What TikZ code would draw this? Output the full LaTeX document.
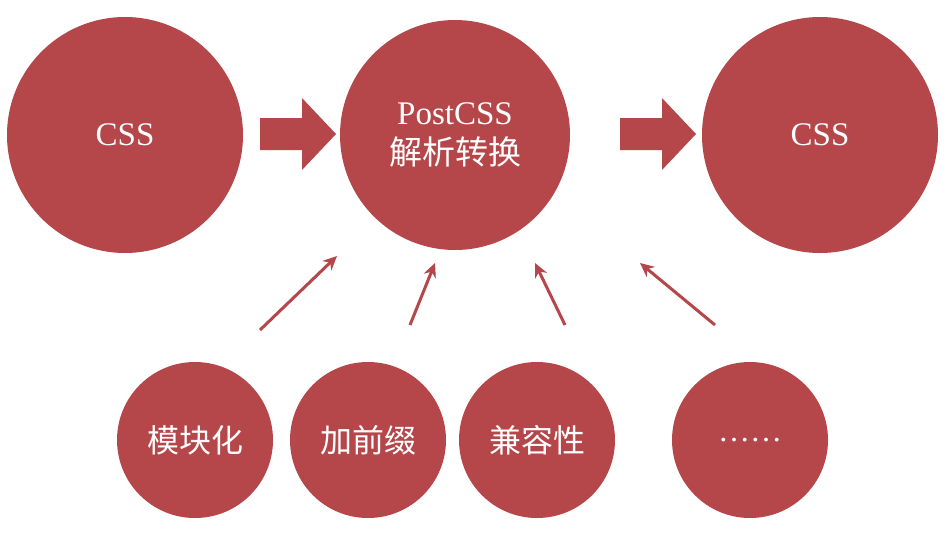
\documentclass[tikz,border=0pt]{standalone}
\usepackage{fontspec}
\usetikzlibrary{arrows.meta}
\setmainfont{Liberation Serif}
\newfontfamily\cjk{Noto Sans CJK SC}
\definecolor{red1}{HTML}{B5464A}
\begin{document}
\begin{tikzpicture}[x=1pt,y=-1pt,
  big/.style={circle,fill=red1,text=white,minimum size=236pt,inner sep=0pt,font=\fontsize{33}{40}\selectfont,align=center},
  small/.style={circle,fill=red1,text=white,minimum size=156pt,inner sep=0pt,font=\cjk\fontsize{32}{38}\selectfont},
  thin/.style={red1,line width=3pt,-{Stealth[length=14pt,width=13pt]}}]
\useasboundingbox[fill=white] (0,0) rectangle (946,555);
\node[big] (a) at (125,135) {CSS};
\node[big,minimum size=230pt] (b) at (455,135) {PostCSS\\{\cjk 解析转换}};
\node[big] (c) at (820,135) {CSS};
\node[small] (m1) at (195,440) {模块化};
\node[small] (m2) at (368,440) {加前缀};
\node[small] (m3) at (537,440) {兼容性};
\node[small] (m4) at (750,440) {\rmfamily ……};
\foreach \x in {260,620}
  \fill[red1] (\x,118) -- (\x+42,118) -- (\x+42,98) -- (\x+76,134) -- (\x+42,170) -- (\x+42,150) -- (\x,150) -- cycle;
\coordinate (s1) at (260,330); \coordinate (e1) at (337,256);
\coordinate (s2) at (410,325); \coordinate (e2) at (435,263);
\coordinate (s3) at (565,325); \coordinate (e3) at (535,263);
\coordinate (s4) at (715,325); \coordinate (e4) at (640,263);
\foreach \i in {1,2,3,4} \draw[thin] (s\i) -- (e\i);
\end{tikzpicture}
\end{document}
